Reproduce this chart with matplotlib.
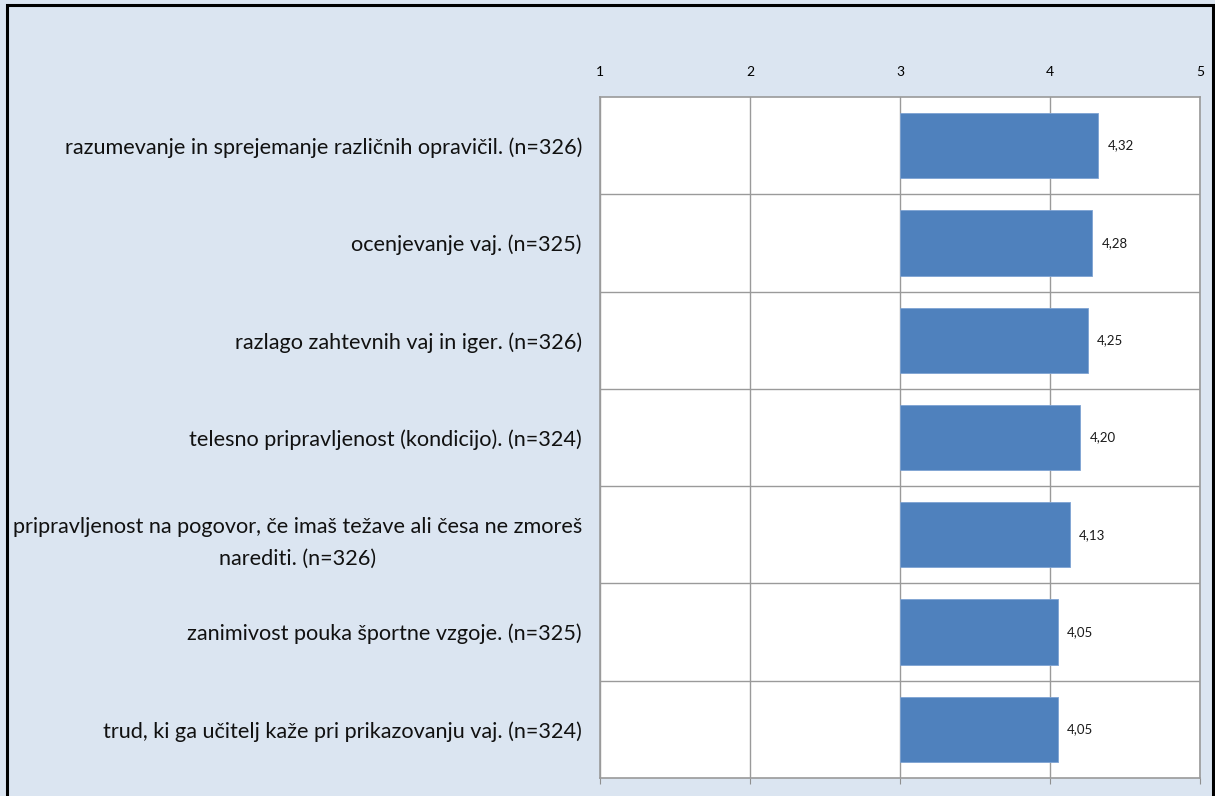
import matplotlib.pyplot as plt
from matplotlib.patches import Rectangle

# Povprečne ocene učiteljev športne vzgoje (lestvica 1-5)
postavke = [
    'razumevanje in sprejemanje različnih opravičil. (n=326)',
    'ocenjevanje vaj. (n=325)',
    'razlago zahtevnih vaj in iger. (n=326)',
    'telesno pripravljenost (kondicijo). (n=324)',
    'pripravljenost na pogovor, če imaš težave ali česa ne zmoreš\nnarediti. (n=326)',
    'zanimivost pouka športne vzgoje. (n=325)',
    'trud, ki ga učitelj kaže pri prikazovanju vaj. (n=324)',
]
povprecja = [4.32, 4.28, 4.25, 4.20, 4.13, 4.05, 4.05]
lestvica = [1, 2, 3, 4, 5]
izhodisce = 3

plt.rcParams['font.family'] = ['Lato', 'DejaVu Sans']

fig = plt.figure(figsize=(12.15, 7.96), dpi=100, facecolor='#dbe5f1')
# okvir grafikona
fig.patches.append(Rectangle((7 / 1215, -0.01), 1206 / 1215, 1 - 5 / 796 + 0.01,
                             transform=fig.transFigure, fill=False,
                             edgecolor='black', linewidth=2.2))

ax = fig.add_axes([600 / 1215, 18 / 796, 600 / 1215, 681 / 796])
ax.set_facecolor('white')

y = list(range(len(postavke)))
ax.barh(y, [v - izhodisce for v in povprecja], left=izhodisce, height=0.67,
        color='#4f81bd', edgecolor='#7ea3d3', linewidth=0.6, zorder=3)

for yi, v in zip(y, povprecja):
    ax.text(v + 0.065, yi, f'{v:.2f}'.replace('.', ','), va='center', ha='left',
            fontsize=9.5, color='#1a1a1a', zorder=4)

ax.set_xlim(lestvica[0], lestvica[-1])
ax.set_ylim(len(postavke) - 0.5, -0.5)
ax.set_xticks(lestvica)
ax.set_xticklabels([str(t) for t in lestvica], fontsize=10)
ax.xaxis.tick_top()
ax.tick_params(axis='x', top=False, bottom=True, labeltop=True, labelbottom=False,
               length=4, color='#909090', pad=10)
ax.grid(axis='x', color='#9a9a9a', linewidth=1, zorder=1)

# vodoravne ločnice med postavkami
for b in range(1, len(postavke)):
    ax.axhline(b - 0.5, color='#9a9a9a', linewidth=1, zorder=1)

ax.set_yticks(y)
ax.set_yticklabels(postavke, fontsize=15.6, color='#111111')
for lbl in ax.get_yticklabels():
    lbl.set_multialignment('center')
    lbl.set_linespacing(1.75)
ax.tick_params(axis='y', length=0, pad=13)

for s in ax.spines.values():
    s.set_color('#9a9a9a')
    s.set_linewidth(1.2)

fig.savefig('out.png', dpi=100, facecolor=fig.get_facecolor())
